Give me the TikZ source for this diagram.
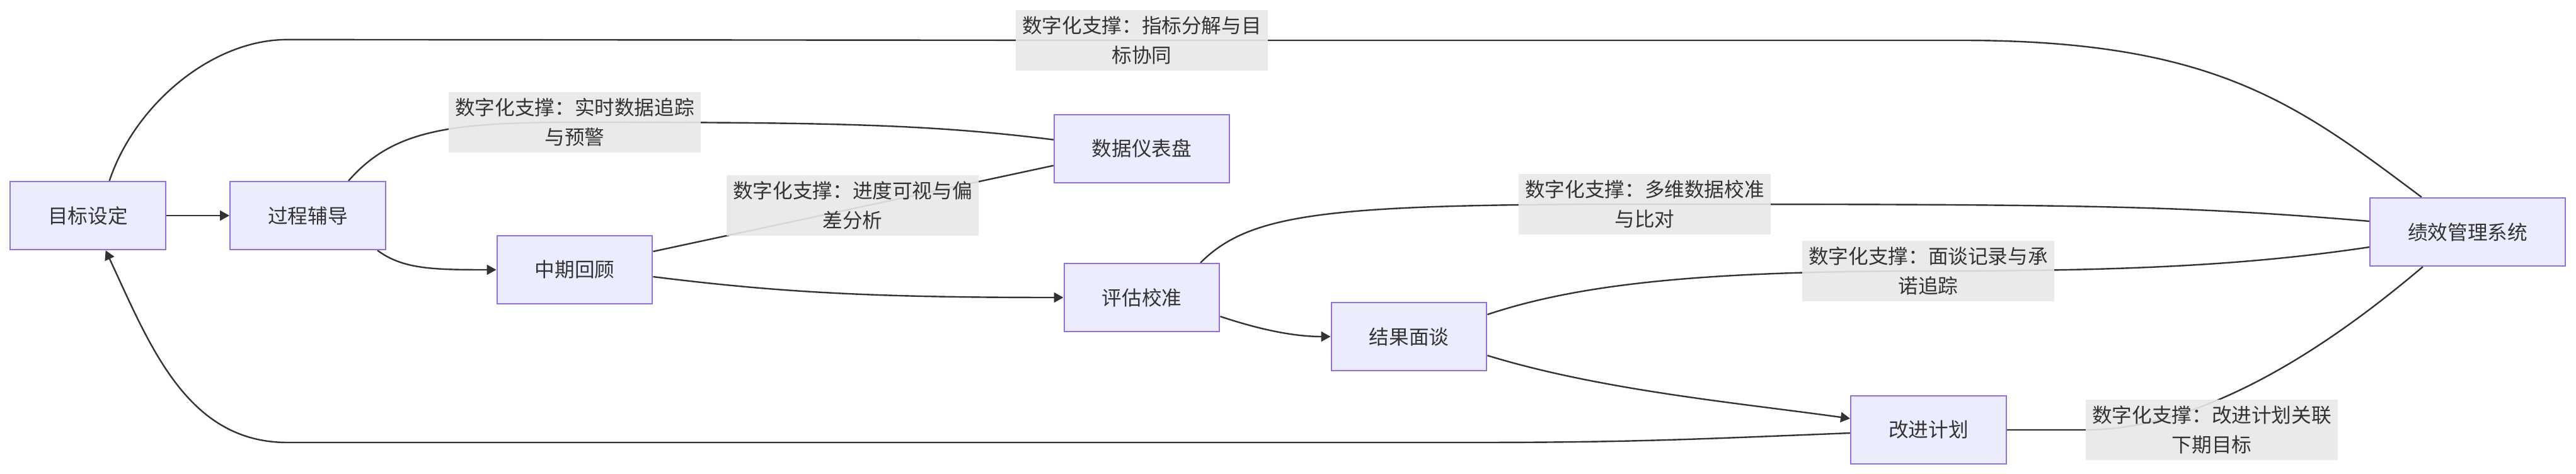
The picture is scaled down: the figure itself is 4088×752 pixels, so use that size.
\documentclass[tikz,border=0pt]{standalone}
\usepackage{fontspec}
\setmainfont{Noto Sans CJK SC}
\usetikzlibrary{arrows.meta,positioning,backgrounds}
\definecolor{boxfill}{RGB}{236,236,255}
\definecolor{boxline}{RGB}{147,112,219}
\definecolor{edgeline}{RGB}{51,51,51}
\definecolor{lblfill}{RGB}{232,232,232}

\begin{document}
\begin{tikzpicture}[x=0.01cm, y=-0.01cm,
  every node/.style={font=\fontsize{9pt}{13.4pt}\selectfont, text=edgeline},
  box/.style={draw=boxline, fill=boxfill, line width=0.022cm, minimum height=1.08cm, inner xsep=0.6cm},
  lbl/.style={fill=lblfill, fill opacity=0.9, text opacity=1, align=center, inner sep=0pt, minimum width=4cm, minimum height=0.96cm},
  flow/.style={draw=edgeline, line width=0.024cm, -{Triangle[length=0.15cm,width=0.16cm]}},
  link/.style={draw=edgeline, line width=0.024cm}]
\useasboundingbox (0,0) rectangle (4088,752);

% 流程节点
\node[box] (goal) at (139.6,342) {目标设定};
\node[box, right=1cm of goal] (coach) {过程辅导};
\node[box] (review) at (912,428) {中期回顾};
\node[box] (evalc) at (1812,472) {评估校准};
\node[box, above=1.26cm of evalc] (dash) {数据仪表盘};
\node[box] (talk) at (2236,534) {结果面谈};
\node[box] (plan) at (3060.5,682) {改进计划};
\node[box] (sys) at (3916,368) {绩效管理系统};

% 数字化支撑标签
\node[lbl] (lblGoal) at (1812,64) {数字化支撑：指标分解与目\\标协同};
\node[lbl] (lblCoach) at (912,194) {数字化支撑：实时数据追踪\\与预警};
\node[lbl] (lblReview) at (1353,326) {数字化支撑：进度可视与偏\\差分析};
\node[lbl] (lblEval) at (2610,324) {数字化支撑：多维数据校准\\与比对};
\node[lbl] (lblTalk) at (3060,430) {数字化支撑：面谈记录与承\\诺追踪};
\node[lbl] (lblPlan) at (3510,682) {数字化支撑：改进计划关联\\下期目标};

\begin{scope}[on background layer]
% 主流程
\draw[flow] (goal) -- (coach);
\draw[flow] ([xshift=-.14cm]coach.south east) .. controls +(40,30) and +(-100,0) .. (review.west);
\draw[flow] ([yshift=-.11cm]review.east) .. controls +(200,25) and +(-300,0) .. (evalc.west);
\draw[flow] ([yshift=-.3cm]evalc.east) .. controls +(60,20) and +(-60,0) .. (talk.west);
\draw[flow] ([yshift=-.3cm]talk.east) .. controls +(180,55) and +(-180,-25) .. ([yshift=.18cm]plan.west);
\draw[flow] ([yshift=-.05cm]plan.west) .. controls +(-250,10) and +(250,0) .. ++(-600,15) -- ++(-1880,0) .. controls +(-160,0) and +(70,150) .. ([xshift=.28cm]goal.south);

% 系统支撑
\draw[link] ([xshift=.34cm]goal.north) .. controls +(40,-120) and +(-120,0) .. ++(282,-224) -- (lblGoal.center) -- ++(1300,0) .. controls +(400,0) and +(-200,-150) .. ([xshift=-.73cm]sys.north);
\draw[link] ([xshift=.645cm]coach.north) .. controls +(70,-80) and +(-200,0) .. (lblCoach.center) .. controls +(400,0) and +(-200,-25) .. ([yshift=.14cm]dash.west);
\draw[link] ([yshift=.29cm]review.east) -- ([yshift=-.27cm]dash.west);
\draw[link] ([xshift=.93cm]evalc.north) .. controls +(80,-80) and +(-500,0) .. (lblEval.center) .. controls +(700,0) and +(-300,-25) .. ([yshift=.17cm]sys.west);
\draw[link] ([yshift=.35cm]talk.east) .. controls +(150,-50) and +(-350,0) .. (lblTalk.center) .. controls +(300,0) and +(-200,30) .. ([yshift=-.24cm]sys.west);
\draw[link] (plan.east) -- (lblPlan.west) .. controls +(200,0) and +(-130,110) .. ([xshift=-.71cm]sys.south);
\end{scope}
\end{tikzpicture}
\end{document}
